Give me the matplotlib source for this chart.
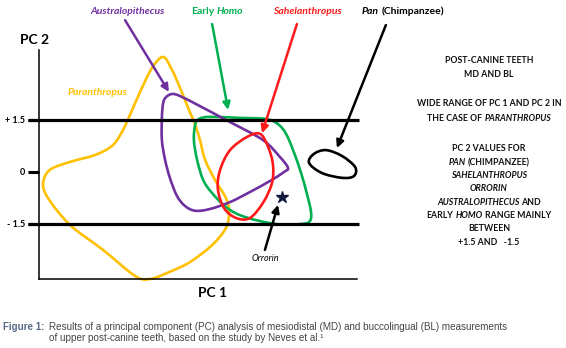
import matplotlib
matplotlib.use("Agg")
import matplotlib.pyplot as plt
import numpy as np
from matplotlib.path import Path
from matplotlib.patches import PathPatch
from matplotlib import font_manager

# outlines of each group in (PC 1, PC 2); PC 1 is in arbitrary units
paranthropus_pc1 = [3.88, 4.16, 4.41, 4.66, 4.88, 5.03, 5.19, 5.50, 5.84, 5.94, 5.84, 5.41, 4.72, 4.09,
                    3.47, 3.00, 2.00, 0.97, 0.28, 0.13, 0.34, 0.97, 1.75, 2.28, 2.59, 2.84, 3.16, 3.53]
paranthropus_pc2 = [3.32, 2.94, 2.42, 1.85, 1.36, 0.92, 0.35, -0.23, -0.75, -1.15, -1.62, -2.11, -2.60, -2.88,
                    -3.09, -3.00, -2.25, -1.53, -0.75, -0.32, 0.06, 0.29, 0.49, 0.75, 1.15, 1.64, 2.31, 3.00]

australopithecus_pc1 = [3.97, 4.16, 4.41, 5.03, 5.97, 7.00, 7.53, 7.78, 7.66, 7.22, 6.59, 5.97, 5.34, 4.88,
                        4.56, 4.31, 4.09, 3.94, 3.84, 3.84, 3.88]
australopithecus_pc2 = [2.16, 2.25, 2.19, 1.90, 1.44, 0.92, 0.43, 0.12, 0.00, -0.26, -0.58, -0.87, -1.07, -1.12,
                        -0.98, -0.69, -0.17, 0.35, 0.92, 1.56, 1.99]

early_homo_pc1 = [4.88, 5.00, 5.34, 6.28, 7.09, 7.47, 7.72, 7.94, 8.19, 8.38, 8.50, 8.47, 8.22, 7.38,
                  6.44, 5.88, 5.41, 5.13, 4.94, 4.84]
early_homo_pc2 = [1.36, 1.53, 1.59, 1.56, 1.53, 1.38, 1.10, 0.63, -0.03, -0.66, -1.15, -1.41, -1.50, -1.50,
                  -1.30, -1.04, -0.61, -0.23, 0.35, 0.92]

sahelanthropus_pc1 = [6.91, 7.16, 7.31, 7.28, 7.00, 6.59, 6.16, 5.78, 5.59, 5.66, 5.97, 6.50]
sahelanthropus_pc2 = [1.10, 0.72, 0.22, -0.32, -0.89, -1.33, -1.33, -1.04, -0.49, 0.06, 0.63, 1.01]

pan_pc1 = [8.44, 8.59, 8.97, 9.47, 9.88, 9.84, 9.47, 8.84]
pan_pc2 = [0.26, 0.52, 0.63, 0.46, 0.14, -0.12, -0.17, -0.03]

orrorin_pc1 = 7.59
orrorin_pc2 = -0.72

pc2_ticks = [1.5, 0, -1.5]
pc2_tick_labels = ["+ 1.5", "0", "- 1.5"]

YELLOW = "#FFC000"
PURPLE = "#7030A0"
GREEN = "#00B050"
RED = "#FF1A1A"

available = {f.name for f in font_manager.fontManager.ttflist}
FONT = "Lato" if "Lato" in available else "DejaVu Sans"
CAPTION_FONT = "Liberation Sans Narrow" if "Liberation Sans Narrow" in available else "Liberation Sans"
plt.rcParams["font.family"] = [FONT, "DejaVu Sans"]


def smooth_outline(xs, ys):
    # closed Catmull-Rom curve through the points, as cubic Bezier segments
    p = np.column_stack([xs, ys])
    n = len(p)
    verts = [p[0]]
    codes = [Path.MOVETO]
    for i in range(n):
        p0, p1, p2, p3 = p[i - 1], p[i], p[(i + 1) % n], p[(i + 2) % n]
        verts += [p1 + (p2 - p0) / 6, p2 - (p3 - p1) / 6, p2]
        codes += [Path.CURVE4] * 3
    return Path(verts, codes)


def mixed_text(fig, x, y, parts, size, color="black", weight="bold", ha="center", family=None):
    # draw a line of text made of upright and italic pieces, positioned in figure pixels
    renderer = fig.canvas.get_renderer()
    W, H = fig.bbox.width, fig.bbox.height
    kw = dict(fontsize=size, color=color, weight=weight, va="baseline")
    if family:
        kw["family"] = family
    probe = fig.text(0, 0, "x x", **kw)
    w2 = probe.get_window_extent(renderer).width
    probe.set_text("xx")
    space = w2 - probe.get_window_extent(renderer).width
    probe.remove()
    texts, widths = [], []
    for s, italic in parts:
        t = fig.text(0, 0, s.strip(), style="italic" if italic else "normal", **kw)
        texts.append(t)
        widths.append(t.get_window_extent(renderer).width)
    gaps = [space if (i < len(parts) - 1 and (parts[i][0].endswith(" ") or parts[i + 1][0].startswith(" "))) else 0
            for i in range(len(parts))]
    total = sum(widths) + sum(gaps)
    start = x - total / 2 if ha == "center" else x
    for t, w, g in zip(texts, widths, gaps):
        t.set_position((start / W, 1 - y / H))
        start += w + g


fig = plt.figure(figsize=(5.66, 3.48), dpi=100)
W, H = 566, 348
ax = fig.add_axes([39 / W, (H - 279) / H, 320 / W, 229 / H])
ax.set_xlim(0, 10)
ax.set_ylim(-3.09, 3.52)
for side in ("top", "right"):
    ax.spines[side].set_visible(False)
ax.spines["left"].set_linewidth(1.1)
ax.spines["bottom"].set_linewidth(1.1)
ax.spines["bottom"].set_bounds(0, 9.94)
ax.set_xticks([])
ax.set_yticks(pc2_ticks)
ax.set_yticklabels(pc2_tick_labels, fontsize=6.5, weight="bold")
ax.tick_params(axis="y", length=8, width=2.2, pad=2)

# +1.5 and -1.5 reference lines
for level in (1.5, -1.5):
    ax.plot([-0.34, 10.0], [level, level], color="black", lw=2.3, clip_on=False, solid_capstyle="butt")

outlines = [
    (paranthropus_pc1, paranthropus_pc2, YELLOW),
    (early_homo_pc1, early_homo_pc2, GREEN),
    (australopithecus_pc1, australopithecus_pc2, PURPLE),
    (sahelanthropus_pc1, sahelanthropus_pc2, RED),
    (pan_pc1, pan_pc2, "black"),
]
for xs, ys, c in outlines:
    ax.add_patch(PathPatch(smooth_outline(xs, ys), fill=False, edgecolor=c, lw=1.9,
                           joinstyle="round", clip_on=False))

ax.plot([orrorin_pc1], [orrorin_pc2], marker="*", ms=9, color="#141a3c", clip_on=False)

arrows = [
    ((4.06, 2.31), (2.69, 4.38), PURPLE),
    ((5.91, 1.79), (5.41, 4.27), GREEN),
    ((6.97, 1.12), (8.06, 4.27), RED),
    ((9.31, 0.69), (10.84, 4.24), "black"),
    ((7.47, -0.95), (7.06, -2.25), "black"),
]
for tip, tail, c in arrows:
    ax.annotate("", xy=tip, xytext=tail, annotation_clip=False,
                arrowprops=dict(arrowstyle="-|>", color=c, lw=1.8, mutation_scale=11,
                                shrinkA=0, shrinkB=0))

# group labels
mixed_text(fig, 128, 14, [("Australopithecus", True)], 7.5, PURPLE)
mixed_text(fig, 217, 14, [("Early ", False), ("Homo", True)], 7.5, GREEN)
mixed_text(fig, 307, 14, [("Sahelanthropus", True)], 7.5, RED)
mixed_text(fig, 362, 14, [("Pan ", True), ("(Chimpanzee)", False)], 7.5, "black", ha="left")
mixed_text(fig, 98, 95, [("Paranthropus", True)], 7.5, YELLOW)
mixed_text(fig, 265, 261, [("Orrorin", True)], 6.5, "black", weight="normal")

fig.text(35 / W, 1 - 44 / H, "PC 2", fontsize=10, weight="bold", ha="center", va="baseline")
fig.text(213 / W, 1 - 297 / H, "PC 1", fontsize=10, weight="bold", ha="center", va="baseline")

# notes to the right of the plot
notes = [
    (63, [("POST-CANINE TEETH", False)]),
    (77, [("MD AND BL", False)]),
    (106, [("WIDE RANGE OF PC 1 AND PC 2 IN", False)]),
    (121, [("THE CASE OF ", False), ("PARANTHROPUS", True)]),
    (151, [("PC 2 VALUES FOR", False)]),
    (165, [("PAN ", True), ("(CHIMPANZEE)", False)]),
    (178, [("SAHELANTHROPUS", True)]),
    (191, [("ORRORIN", True)]),
    (205, [("AUSTRALOPITHECUS ", True), ("AND", False)]),
    (218, [("EARLY ", False), ("HOMO ", True), ("RANGE MAINLY", False)]),
    (231, [("BETWEEN", False)]),
    (245, [("+1.5 AND   -1.5", False)]),
]
for y, parts in notes:
    mixed_text(fig, 489, y, parts, 6.3, "#111111", weight="bold")

# caption
fig.text(3 / W, 1 - 330 / H, "Figure 1:", fontsize=7.0, weight="bold", color="#566a86",
         family=CAPTION_FONT, va="baseline")
fig.text(49 / W, 1 - 330 / H,
         "Results of a principal component (PC) analysis of mesiodistal (MD) and buccolingual (BL) measurements",
         fontsize=7.15, color="#444444", family=CAPTION_FONT, va="baseline")
fig.text(49 / W, 1 - 341 / H,
         "of upper post-canine teeth, based on the study by Neves et al.\u00b9",
         fontsize=7.15, color="#444444", family=CAPTION_FONT, va="baseline")

fig.savefig("out.png", dpi=100)
